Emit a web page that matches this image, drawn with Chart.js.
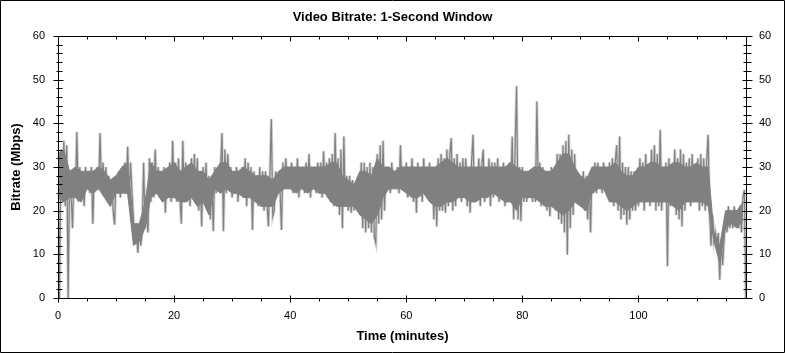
<!DOCTYPE html>
<html>
<head>
<meta charset="utf-8">
<script src="https://cdn.jsdelivr.net/npm/chart.js@4.4.1/dist/chart.umd.min.js"></script>
<style>
html,body{margin:0;padding:0;background:#fff;}
canvas{display:block;}
</style>
</head>
<body>
<canvas id="c" width="785" height="353"></canvas>
<script>
const chartTitle = 'Video Bitrate: 1-Second Window';
const xAxisTitle = 'Time (minutes)';
const yAxisTitle = 'Bitrate (Mbps)';
const startMinute = 0;
const stepMinutes = 0.25;
const xMax = 118.7;
const xTickStep = 20;
const xMinorStep = 5;
const yMin = 0, yMax = 60, yTickStep = 10, yMinorStep = 2;

// bitrate in Mbps, one value every 0.25 minute
const bitrate = [
  33,0,34,22,36,21,35,0,29,24,16,29,23,38,22,30,24,29,21,30,
  25,29,24,30,17,29,25,30,25,37.8,25,31,25,30,22,28,21,27,20,16.8,
  28,24,29,23,29,25,31,24,34.7,22.5,31,24,18,13,17,10.3,16,12,15,31,
  16,19,15,32,22,31,23,34,24,30,23,29,22,30,19.5,29,23,31,22,36,
  24,31,22,32,23,17,36,23,31,22,30,21,32,23,33,22,32,20,28,16.4,
  30,22,31,20,28,18,27,15.3,30,24,30,25,29,37.8,15.3,34,24,33,25,30,
  23,29,24,30,22,28,25,30,23,32,21,31,24,30,15.6,29,22,28,21,30,
  21,29,20,29,22,16.4,28,41,18.7,20,29,24,28,25,15.6,31,25,32,25,30,
  26,31,24,29,25,32,23,30,26,29,24,31,25,33,23,29,26,30,24,31,
  24,31,23,33.6,24,31,23,32,22,33,21,37.8,22,32,19,34,16,37,21,28,
  20,28,19.5,27,20,26,21,26,20,31,16,31,15,30,16,31,15,30,14,12.6,
  33,17,35,18,36,20,30,25,30,24,31,25,29,25,30,24,35,25,30,25,
  31,23,29,25,32,22,30,19.5,31,24,29,22,32,25,30,23,31,22,29,18,
  30,16.4,32,20,33,20,32,19.5,34,21,33,36.6,20,32,21,33,23,31,22,32,
  23,32,21,30,19.5,31,37.4,22,29,23,32,21,30,34,22,30,24,32,21,31,
  23,31,24,32,22,30,23,31,21,30,22,31,23,37,18,34,48.5,18,30,17.6,
  30,22,29,22,29,23,29,22,30,22,45,24,31,21,30,21,29,20,29,18.7,
  30,21,29,20,33,18,33,17,35,15,36,9.9,37.4,16,34,19,33,22,28,22,
  28,21,29,20,28,18,27,15,29,24,31,24,31,25,30,24,31,25,30,24,
  31,22,32,21,31,35,20,37,18,31,19,30,16.8,30,18,29,20,29,20,28,
  21,32,23,31,20,33,22,30,21,34,22,35,20,33,21,38.5,20,30,22,31,
  7.3,32,21,30,23,34,19,32,18,34,16.4,33,20,31,22,32,21,33,22,30,
  22,32,20,33,21,32,20,31,37.4,20,12,19,13,15,12.6,14.9,4.2,13,7.5,13.4,
  19,15,21,16,20,16,21,17,20,16,21,15,23,24.8,0
];

// dense core of the trace, one value per minute
const bandStepMinutes = 1;
const bandHigh = [
  33,34,29,30,29,29,29,30,29,27,
  28,30,31,17,17,22,31,29,29,30,
  31,29,30,31,29,29,27,29,31,31,
  29,29,30,29,28,28,28,27,29,30,
  30,30,30,30,30,30,30,31,31,28,
  27,26,29,29,28,32,30,30,29,30,
  30,30,30,30,30,30,31,32,31,30,
  30,30,30,30,30,30,30,30,31,30,
  29,29,30,30,29,29,31,33,33,30,
  28,27,30,30,30,30,31,29,28,28,
  30,30,31,31,30,30,31,31,30,30,
  31,30,30,15,12,20,20,20,22
];
const bandLow = [
  23,22,23,23,22,25,24,25,23,21,
  24,24,24,12,13,16,23,24,22,23,
  23,22,22,23,21,22,19,25,24,25,
  24,24,23,23,22,21,21,21,24,25,
  25,24,25,24,25,24,24,22,21,21,
  21,21,19,18,17,19,23,25,25,25,
  24,23,23,24,22,21,21,22,22,23,
  23,22,22,23,23,24,23,22,22,20,
  23,23,23,22,21,21,20,19,20,22,
  21,20,24,25,25,22,22,21,20,21,
  22,22,22,22,22,22,21,20,22,22,
  22,22,21,13,8,16,17,16,18
];

const points = bitrate.map((v, i) => ({ x: startMinute + i * stepMinutes, y: v }));
const highPts = bandHigh.map((v, i) => ({ x: startMinute + i * bandStepMinutes, y: v }));
const lowPts = bandLow.map((v, i) => ({ x: startMinute + i * bandStepMinutes, y: v }));

const FONT = '"Liberation Sans", Arial, sans-serif';
const TRACE = '#808080';

const framePlugin = {
  id: 'frame',
  afterDraw(chart) {
    const { ctx, chartArea: a, scales } = chart;
    const L = Math.floor(a.left) + 0.5;
    const R = Math.floor(a.right) - 0.5;
    const T = Math.floor(a.top) + 0.5;
    const B = Math.floor(a.bottom) + 0.5;
    ctx.save();
    ctx.strokeStyle = '#000';
    ctx.lineWidth = 1;
    ctx.beginPath();
    ctx.rect(0.5, 0.5, chart.width - 1, chart.height - 1);
    ctx.rect(L, T, R - L, B - T);
    for (let v = yMin; v <= yMax + 1e-9; v += yMinorStep) {
      const y = Math.round(scales.y.getPixelForValue(v)) + 0.5;
      const major = Math.abs(v % yTickStep) < 1e-9;
      ctx.moveTo(L - (major ? 5 : 2), y); ctx.lineTo(L + (major ? 5 : 4), y);
      ctx.moveTo(R - (major ? 4 : 3), y); ctx.lineTo(R + (major ? 6 : 5), y);
    }
    for (let v = 0; v <= xMax + 1e-9; v += xMinorStep) {
      const x = Math.round(scales.x.getPixelForValue(v)) + 0.5;
      const major = Math.abs(v % xTickStep) < 1e-9;
      ctx.moveTo(x, T); ctx.lineTo(x, T + (major ? 5 : 3));
      ctx.moveTo(x, B - (major ? 3 : 0)); ctx.lineTo(x, B + (major ? 4 : 3));
    }
    ctx.stroke();
    ctx.restore();
  }
};

new Chart(document.getElementById('c'), {
  type: 'line',
  data: {
    datasets: [
      {
        label: 'bitrate',
        data: points,
        borderColor: TRACE,
        borderWidth: 1.2,
        pointRadius: 0,
        tension: 0,
        fill: false,
        order: 0,
        yAxisID: 'y'
      },
      {
        label: 'core high',
        data: highPts,
        borderColor: TRACE,
        borderWidth: 1,
        backgroundColor: TRACE,
        pointRadius: 0,
        tension: 0,
        fill: '+1',
        order: 1,
        yAxisID: 'y'
      },
      {
        label: 'core low',
        data: lowPts,
        borderColor: TRACE,
        borderWidth: 1,
        pointRadius: 0,
        tension: 0,
        fill: false,
        order: 2,
        yAxisID: 'y'
      },
      {
        label: 'halo',
        data: points,
        borderColor: '#d6d6d6',
        borderWidth: 3,
        pointRadius: 0,
        tension: 0,
        fill: false,
        order: 3,
        yAxisID: 'y'
      }
    ]
  },
  options: {
    responsive: false,
    animation: false,
    events: [],
    layout: { padding: 0 },
    plugins: {
      legend: { display: false },
      tooltip: { enabled: false },
      title: {
        display: true,
        text: chartTitle,
        color: '#000',
        font: { family: FONT, size: 13, weight: 'bold' },
        padding: { top: 10, bottom: 10.4 }
      }
    },
    scales: {
      x: {
        type: 'linear',
        min: 0,
        max: xMax,
        grid: { display: false, drawTicks: false },
        border: { display: false },
        ticks: {
          stepSize: xTickStep,
          includeBounds: false,
          autoSkip: false,
          maxRotation: 0,
          padding: 11,
          color: '#000',
          font: { family: FONT, size: 11 }
        },
        title: {
          display: true,
          text: xAxisTitle,
          color: '#000',
          font: { family: FONT, size: 13, weight: 'bold' },
          padding: { top: 0, bottom: 9 }
        },
        afterFit(s) { s.height = 55; }
      },
      y: {
        position: 'left',
        min: yMin,
        max: yMax,
        grid: { display: false, drawTicks: false },
        border: { display: false },
        ticks: {
          stepSize: yTickStep,
          autoSkip: false,
          padding: 13,
          color: '#000',
          font: { family: FONT, size: 11 }
        },
        title: {
          display: true,
          text: yAxisTitle,
          color: '#000',
          font: { family: FONT, size: 13, weight: 'bold' },
          padding: { top: 9, bottom: 0 }
        },
        afterFit(s) { s.width = 58; }
      },
      y2: {
        position: 'right',
        min: yMin,
        max: yMax,
        grid: { display: false, drawTicks: false },
        border: { display: false },
        ticks: {
          stepSize: yTickStep,
          autoSkip: false,
          padding: 12,
          color: '#000',
          font: { family: FONT, size: 11 }
        },
        afterFit(s) { s.width = 38; }
      }
    }
  },
  plugins: [framePlugin]
});
</script>
</body>
</html>
